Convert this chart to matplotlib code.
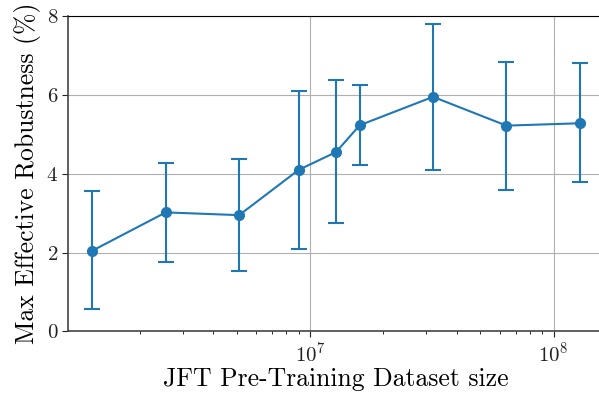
import numpy as np
import matplotlib
matplotlib.use("Agg")
import matplotlib.pyplot as plt

plt.rcParams["font.family"] = ["cmr10", "DejaVu Sans"]
plt.rcParams["mathtext.fontset"] = "cm"
plt.rcParams["axes.formatter.use_mathtext"] = True

# JFT subset sizes and max effective robustness (%)
sizes = [1.28e6, 2.56e6, 5.12e6, 9.0e6, 1.28e7, 1.6e7, 3.2e7, 6.4e7, 1.28e8]
robust = [2.05, 3.02, 2.95, 4.10, 4.55, 5.23, 5.95, 5.22, 5.28]
err_low = [0.57, 1.75, 1.53, 2.10, 2.75, 4.23, 4.10, 3.60, 3.78]
err_high = [3.57, 4.28, 4.37, 6.10, 6.37, 6.25, 7.80, 6.83, 6.80]

robust = np.array(robust)
yerr = [robust - np.array(err_low), np.array(err_high) - robust]

fig = plt.figure(figsize=(5.99, 3.95), dpi=100)
ax = fig.add_axes([0.1135, 0.1608, 0.895, 0.7987])

ax.errorbar(sizes, robust, yerr=yerr, color="#1f77b4", marker="o", markersize=7,
            linewidth=1.5, elinewidth=1.5, capsize=6, capthick=1.5)
ax.set_xscale("log")
ax.set_xlim(10**6.007, 10**8.207)
ax.set_ylim(0, 8)
ax.set_yticks([0, 2, 4, 6, 8])
ax.grid(True, which="major", color="#b0b0b0", linewidth=0.8)
ax.set_axisbelow(True)

for s in ["left", "bottom"]:
    ax.spines[s].set_color("#444444")
    ax.spines[s].set_linewidth(1.2)
ax.spines["top"].set_color("black")
ax.tick_params(labelsize=15, colors="#222222", length=4, pad=3)
ax.tick_params(which="minor", length=2.5)

ax.set_xlabel("JFT Pre-Training Dataset size", fontsize=18.5, labelpad=1)
ax.set_ylabel("Max Effective Robustness (%)", fontsize=18.5, labelpad=4)

fig.savefig("out.png", dpi=100)
